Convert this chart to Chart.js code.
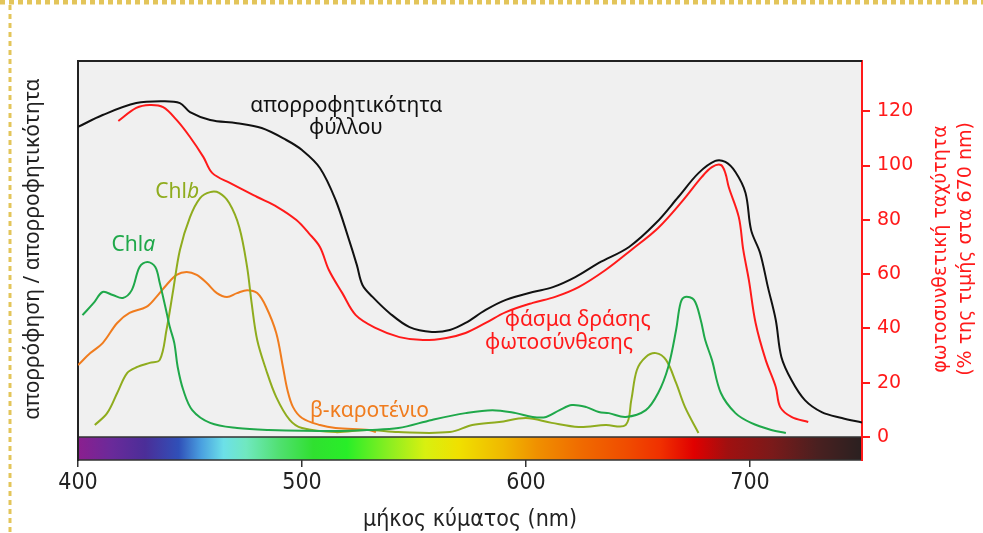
<!DOCTYPE html>
<html>
<head>
<meta charset="utf-8">
<script src="https://cdn.jsdelivr.net/npm/chart.js@4.4.0/dist/chart.umd.min.js"></script>
<style>
  html, body { margin: 0; padding: 0; background: #fff; }
</style>
</head>
<body>
<canvas id="chart" width="983" height="533"></canvas>
<script>
// Values (wavelength in nm, value on the right-hand scale)
const leafNm = [400, 411, 426, 438, 445.5, 450, 459, 471, 482, 493, 500, 508, 515, 521, 524.5, 527, 531.5, 539, 548, 558, 566, 573, 582, 591, 603, 612, 622, 632.5, 646, 658, 668, 677, 684.5, 689, 693.5, 698, 700.5, 704.5, 708, 711.5, 714, 718.5, 724.5, 732, 741, 750];
const leafAbs = [114.2, 118.6, 123.0, 123.7, 123.0, 119.7, 116.8, 115.6, 113.8, 109.4, 105.7, 99.1, 87.3, 72.6, 63.3, 56.0, 51.6, 45.7, 40.5, 38.7, 39.4, 42.0, 46.8, 50.5, 53.4, 55.2, 58.9, 64.1, 70.0, 78.8, 88.4, 97.2, 101.7, 101.3, 97.6, 89.9, 76.2, 67.8, 55.2, 43.1, 29.5, 21.0, 13.6, 9.2, 7.0, 5.3];

const actionNm = [418, 426, 432, 438, 444, 450, 456, 460, 468, 480, 489, 497.5, 503, 508, 512, 518, 524, 533, 543.5, 554, 564.5, 573, 582, 591, 603, 613, 623.5, 635.5, 647, 659, 669.5, 678.5, 683, 687, 689, 690.5, 695, 697, 699.5, 702.5, 707, 711.5, 713.5, 718.5, 726];
const actionRate = [116.4, 121.2, 122.3, 121.5, 116.8, 110.5, 103.1, 97.2, 93.5, 88.4, 84.7, 79.9, 75.1, 70.0, 61.5, 53.0, 44.9, 40.1, 36.8, 35.7, 36.5, 38.3, 42.0, 46.0, 49.4, 51.6, 55.2, 61.5, 68.9, 77.0, 86.6, 95.8, 99.4, 100.2, 97.2, 92.1, 81.0, 68.9, 57.8, 42.0, 28.4, 18.4, 11.0, 7.4, 5.5];

const chlaNm = [402, 407, 411, 415.5, 420, 424, 427.5, 431, 434.5, 436.5, 439, 441, 443, 444.5, 447, 451, 459, 471, 485, 515, 530, 543, 558, 573, 585, 595.5, 603, 609, 615, 620.5, 627, 632.5, 637, 644.5, 653.5, 659, 663.5, 667, 669, 671, 675, 678, 680, 683, 687, 693.5, 700.5, 709.5, 716];
const chlaAbs = [44.9, 49.4, 53.4, 52.3, 51.2, 54.1, 62.6, 64.5, 62.6, 56.7, 47.9, 40.5, 34.6, 25.8, 17.3, 9.9, 5.2, 3.3, 2.6, 2.2, 2.6, 3.3, 6.3, 8.8, 9.9, 8.8, 7.4, 7.4, 9.9, 11.8, 11.0, 9.2, 8.8, 7.4, 9.9, 16.2, 25.8, 39.4, 49.4, 51.6, 50.5, 43.1, 35.7, 28.4, 16.2, 8.8, 5.2, 2.6, 1.5];

const chlbNm = [407.5, 413, 417.5, 422, 426.5, 432, 436.5, 439.5, 442.5, 445.5, 450, 454.5, 459, 463, 467.5, 472, 475.5, 477.5, 480, 484, 488.5, 494.5, 500, 515, 529, 543, 566, 576, 588, 600, 611.5, 623.5, 635.5, 644.5, 647, 649.5, 653.5, 658, 662.5, 667, 671, 677];
const chlbAbs = [4.4, 8.8, 16.2, 23.6, 25.8, 27.3, 28.4, 39.4, 54.1, 68.9, 81.0, 88.0, 90.2, 89.9, 86.2, 77.3, 62.6, 49.4, 35.7, 24.7, 14.7, 6.3, 3.3, 1.8, 2.6, 1.8, 1.8, 4.4, 5.5, 7.0, 5.2, 3.7, 4.4, 4.4, 13.6, 24.7, 29.5, 30.9, 28.4, 19.9, 11.0, 1.5];

const caroNm = [400, 405.5, 411, 417.5, 423, 430.5, 435, 439.5, 444, 448.5, 453, 457.5, 462, 466.5, 471, 475.5, 480, 484, 488.5, 491.5, 493.5, 496, 500, 508, 515, 530, 533];
const caroAbs = [26.5, 30.9, 34.6, 42.0, 45.7, 47.9, 51.6, 56.0, 59.7, 60.8, 59.7, 56.7, 53.0, 51.6, 53.0, 54.1, 53.0, 47.9, 38.3, 25.8, 17.3, 11.0, 7.0, 4.4, 3.3, 2.6, 1.8];

const xTicks = [400, 500, 600, 700];
const rightTicks = [0, 20, 40, 60, 80, 100, 120];

// colour strip under the plot
const spectrumNm = [400, 415, 430, 445, 455, 465, 475, 490, 505, 520, 540, 555, 570, 590, 605, 625, 645, 660, 675, 690, 710, 730, 750];
const spectrumColors = ['#8b1f8f', '#6a2a9a', '#4b2e98', '#3050b8', '#4aa0e0', '#6ce0e8', '#70e8c0', '#50e070', '#30e030', '#28ee28', '#90ee20', '#d8f010', '#f0e000', '#f0b800', '#f09000', '#f06a00', '#f04c00', '#f03000', '#e00000', '#a01010', '#7a1a1a', '#4a2020', '#2a2020'];

const RED = '#ff1a1a';
const labelFont = '"Noto Sans", "DejaVu Sans", sans-serif';
const axisFont = '"Liberation Sans Narrow", "DejaVu Sans Condensed", "Liberation Sans", sans-serif';

const notes = [
    { parts: [['απορροφητικότητα', '']], nm: 519.8, v: 121.9, color: '#111' },
    { parts: [['φύλλου', '']], nm: 519.6, v: 113.8, color: '#111' },
    { parts: [['φάσμα δράσης', '']], nm: 623.1, v: 43.1, color: RED },
    { parts: [['φωτοσύνθεσης', '']], nm: 614.7, v: 34.6, color: RED },
    { parts: [['Chl', ''], ['b', 'italic ']], nm: 444.3, v: 90.2, color: '#8fac1e' },
    { parts: [['Chl', ''], ['a', 'italic ']], nm: 424.7, v: 70.7, color: '#1fa84a' },
    { parts: [['β-καροτένιο', '']], nm: 530.1, v: 9.6, color: '#f07c1e' }
];

function toPoints(xs, ys) {
    return xs.map((x, i) => ({ x: x, y: ys[i] }));
}

function series(label, xs, ys, color) {
    return {
        label: label,
        data: toPoints(xs, ys),
        borderColor: color,
        borderWidth: 2,
        pointRadius: 0,
        fill: false,
        tension: 0.35,
        yAxisID: 'yR'
    };
}

const yMin = -8.47;
const yMax = 138.5;

function rotatedText(ctx, text, x, y) {
    ctx.save();
    ctx.translate(x, y);
    ctx.rotate(-Math.PI / 2);
    ctx.fillText(text, 0, 0);
    ctx.restore();
}

// background, spectrum strip, frame, labels
const decor = {
    id: 'decor',
    beforeDraw(chart) {
        const { ctx, chartArea: a, scales: { x, yR } } = chart;
        const y0 = yR.getPixelForValue(0);
        ctx.save();
        ctx.fillStyle = '#f0f0f0';
        ctx.fillRect(a.left, a.top, a.right - a.left, y0 - a.top);
        const g = ctx.createLinearGradient(x.getPixelForValue(400), 0, x.getPixelForValue(750), 0);
        spectrumNm.forEach((nm, i) => g.addColorStop((nm - 400) / 350, spectrumColors[i]));
        ctx.fillStyle = g;
        ctx.fillRect(a.left, y0, a.right - a.left, a.bottom - y0);
        ctx.strokeStyle = '#333';
        ctx.lineWidth = 1.5;
        ctx.beginPath();
        ctx.moveTo(a.left, y0);
        ctx.lineTo(a.right, y0);
        ctx.moveTo(a.left, a.bottom);
        ctx.lineTo(a.right, a.bottom);
        ctx.stroke();
        ctx.restore();
    },
    afterDraw(chart) {
        const { ctx, chartArea: a, scales: { x, yR } } = chart;
        ctx.save();
        // top border of the plot
        ctx.strokeStyle = '#222';
        ctx.lineWidth = 2;
        ctx.beginPath();
        ctx.moveTo(a.left - 1, a.top);
        ctx.lineTo(a.right, a.top);
        ctx.stroke();

        // curve labels
        ctx.textBaseline = 'middle';
        notes.forEach(n => {
            let w = 0;
            n.parts.forEach(p => {
                ctx.font = p[1] + '21px ' + labelFont;
                w += ctx.measureText(p[0]).width;
            });
            let px = x.getPixelForValue(n.nm) - w / 2;
            const py = yR.getPixelForValue(n.v);
            ctx.fillStyle = n.color;
            ctx.textAlign = 'left';
            n.parts.forEach(p => {
                ctx.font = p[1] + '21px ' + labelFont;
                ctx.fillText(p[0], px, py);
                px += ctx.measureText(p[0]).width;
            });
        });

        // axis titles, reading bottom to top
        ctx.textAlign = 'center';
        ctx.fillStyle = '#222';
        ctx.font = '21px ' + labelFont;
        rotatedText(ctx, 'απορρόφηση / απορροφητικότητα', 33, 249);
        ctx.fillStyle = RED;
        ctx.font = '19px "DejaVu Sans", sans-serif';
        rotatedText(ctx, 'φωτοσυνθετική ταχύτητα', 941, 249);
        rotatedText(ctx, '(% της τιμής στα 670 nm)', 966, 249);

        // dashed yellow frame of the page
        ctx.strokeStyle = '#e3c55a';
        ctx.setLineDash([5, 4]);
        ctx.lineWidth = 5;
        ctx.beginPath();
        ctx.moveTo(0, 2);
        ctx.lineTo(983, 2);
        ctx.stroke();
        ctx.lineWidth = 3;
        ctx.beginPath();
        ctx.moveTo(10, 5);
        ctx.lineTo(10, 533);
        ctx.stroke();
        ctx.restore();
    }
};

const chart = new Chart(document.getElementById('chart').getContext('2d'), {
    type: 'line',
    data: {
        datasets: [
            series('απορροφητικότητα φύλλου', leafNm, leafAbs, '#111'),
            series('φάσμα δράσης φωτοσύνθεσης', actionNm, actionRate, RED),
            series('Chla', chlaNm, chlaAbs, '#1fa84a'),
            series('Chlb', chlbNm, chlbAbs, '#8fac1e'),
            series('β-καροτένιο', caroNm, caroAbs, '#f07c1e')
        ]
    },
    options: {
        responsive: false,
        animation: false,
        layout: { padding: { top: 61, left: 0, right: 0, bottom: 0 } },
        plugins: {
            legend: { display: false },
            tooltip: { enabled: false }
        },
        scales: {
            x: {
                type: 'linear',
                min: 400,
                max: 750,
                afterBuildTicks: s => { s.ticks = xTicks.map(v => ({ value: v })); },
                afterFit: s => { s.height = 73; },
                grid: { drawOnChartArea: false, drawTicks: true, tickLength: 7, color: '#333', lineWidth: 1.5 },
                border: { display: false },
                ticks: { color: '#222', font: { family: axisFont, size: 23 }, padding: 2, maxRotation: 0 },
                title: {
                    display: true,
                    text: 'μήκος κύματος (nm)',
                    color: '#222',
                    font: { family: axisFont, size: 23 },
                    padding: { top: 0, bottom: -1 }
                }
            },
            yR: {
                type: 'linear',
                position: 'right',
                min: yMin,
                max: yMax,
                afterBuildTicks: s => { s.ticks = rightTicks.map(v => ({ value: v })); },
                afterFit: s => { s.width = 121; },
                grid: { drawOnChartArea: false, drawTicks: true, tickLength: 8, color: RED, lineWidth: 2 },
                border: { color: RED, width: 2 },
                ticks: { color: RED, font: { family: '"DejaVu Sans", sans-serif', size: 19 }, padding: 7 }
            },
            yL: {
                type: 'linear',
                position: 'left',
                min: yMin,
                max: yMax,
                afterFit: s => { s.width = 78; },
                grid: { display: true, drawOnChartArea: false, drawTicks: false },
                border: { color: '#222', width: 2 },
                ticks: { display: false }
            }
        }
    },
    plugins: [decor]
});
</script>
</body>
</html>
